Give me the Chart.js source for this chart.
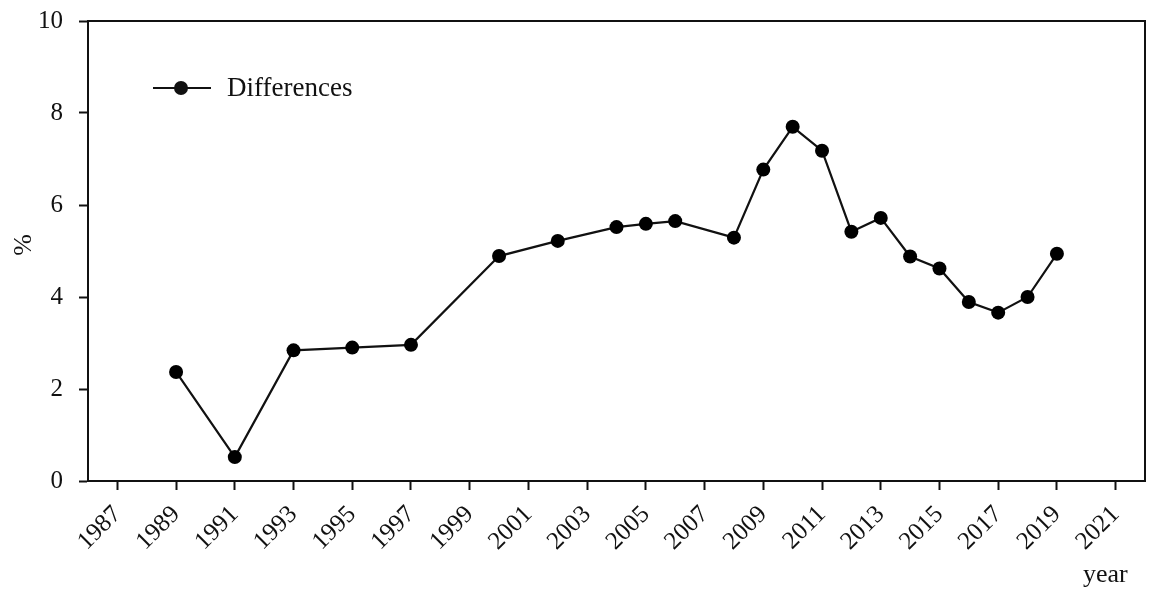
<!DOCTYPE html>
<html>
<head>
<meta charset="utf-8">
<script src="https://cdn.jsdelivr.net/npm/chart.js@4/dist/chart.umd.min.js"></script>
<style>
  html, body { margin: 0; padding: 0; background: #fff; }
  #wrap { width: 1155px; height: 589px; position: relative; }
</style>
</head>
<body>
<div id="wrap"><canvas id="c"></canvas></div>
<script>
// Survey years and the yearly difference (%)
const years = [1989, 1991, 1993, 1995, 1997, 2000, 2002, 2004, 2005, 2006, 2008, 2009, 2010, 2011, 2012, 2013, 2014, 2015, 2016, 2017, 2018, 2019];
const differences = [2.37, 0.52, 2.84, 2.90, 2.96, 4.89, 5.22, 5.52, 5.59, 5.65, 5.29, 6.77, 7.70, 7.18, 5.42, 5.72, 4.88, 4.62, 3.89, 3.66, 4.00, 4.94];
const xTickYears = [1987, 1989, 1991, 1993, 1995, 1997, 1999, 2001, 2003, 2005, 2007, 2009, 2011, 2013, 2015, 2017, 2019, 2021];
const yTickValues = [0, 2, 4, 6, 8, 10];
const seriesName = 'Differences';
const xTitle = 'year';
const yTitle = '%';

const FONT = '"Liberation Serif", "DejaVu Serif", serif';

// Frame, axis titles and the in-plot legend
const decorations = {
  id: 'decorations',
  afterDraw(chart) {
    const { ctx, chartArea: a } = chart;
    ctx.save();
    ctx.strokeStyle = '#111';
    ctx.lineWidth = 2;
    ctx.strokeRect(a.left, a.top, a.right - a.left, a.bottom - a.top);

    ctx.fillStyle = '#111';
    ctx.font = '26px ' + FONT;
    ctx.textAlign = 'left';
    ctx.textBaseline = 'alphabetic';
    ctx.fillText(xTitle, 1083, 582);

    ctx.save();
    ctx.translate(31, 245);
    ctx.rotate(-Math.PI / 2);
    ctx.textAlign = 'center';
    ctx.fillText(yTitle, 0, 0);
    ctx.restore();

    // legend entry
    ctx.lineWidth = 2.2;
    ctx.beginPath();
    ctx.moveTo(153, 88);
    ctx.lineTo(211, 88);
    ctx.stroke();
    ctx.beginPath();
    ctx.arc(181, 88, 7, 0, Math.PI * 2);
    ctx.fill();
    ctx.font = '27px ' + FONT;
    ctx.textBaseline = 'middle';
    ctx.fillText(seriesName, 227, 89);
    ctx.restore();
  }
};

new Chart(document.getElementById('c'), {
  type: 'line',
  data: {
    datasets: [{
      label: seriesName,
      data: years.map((y, i) => ({ x: y, y: differences[i] })),
      borderColor: '#111',
      backgroundColor: '#000',
      borderWidth: 2.2,
      pointRadius: 7,
      pointHoverRadius: 7,
      pointBackgroundColor: '#000',
      pointBorderWidth: 0,
      tension: 0
    }]
  },
  options: {
    responsive: true,
    maintainAspectRatio: false,
    animation: false,
    events: [],
    layout: { padding: { top: 21, right: 10, left: 0, bottom: 0 } },
    plugins: { legend: { display: false }, tooltip: { enabled: false } },
    scales: {
      x: {
        type: 'linear',
        min: 1986,
        max: 2022,
        afterBuildTicks(scale) { scale.ticks = xTickYears.map(v => ({ value: v })); },
        afterFit(scale) { scale.height = 108; scale.paddingLeft = 0; scale.paddingRight = 0; },
        border: { display: true, color: '#111', width: 2 },
        grid: { drawOnChartArea: false, drawTicks: true, tickLength: 9, tickColor: '#111', tickWidth: 2 },
        ticks: {
          color: '#111',
          font: { family: FONT, size: 25 },
          minRotation: 45,
          maxRotation: 45,
          padding: 10,
          autoSkip: false,
          callback: v => String(v)
        }
      },
      y: {
        min: 0,
        max: 10,
        afterBuildTicks(scale) { scale.ticks = yTickValues.map(v => ({ value: v })); },
        afterFit(scale) { scale.width = 88; scale.paddingTop = 0; scale.paddingBottom = 0; },
        border: { display: true, color: '#111', width: 2 },
        grid: { drawOnChartArea: false, drawTicks: true, tickLength: 9, tickColor: '#111', tickWidth: 2 },
        ticks: {
          color: '#111',
          font: { family: FONT, size: 25 },
          padding: 16,
          callback: v => String(v)
        }
      }
    }
  },
  plugins: [decorations]
});
</script>
</body>
</html>
